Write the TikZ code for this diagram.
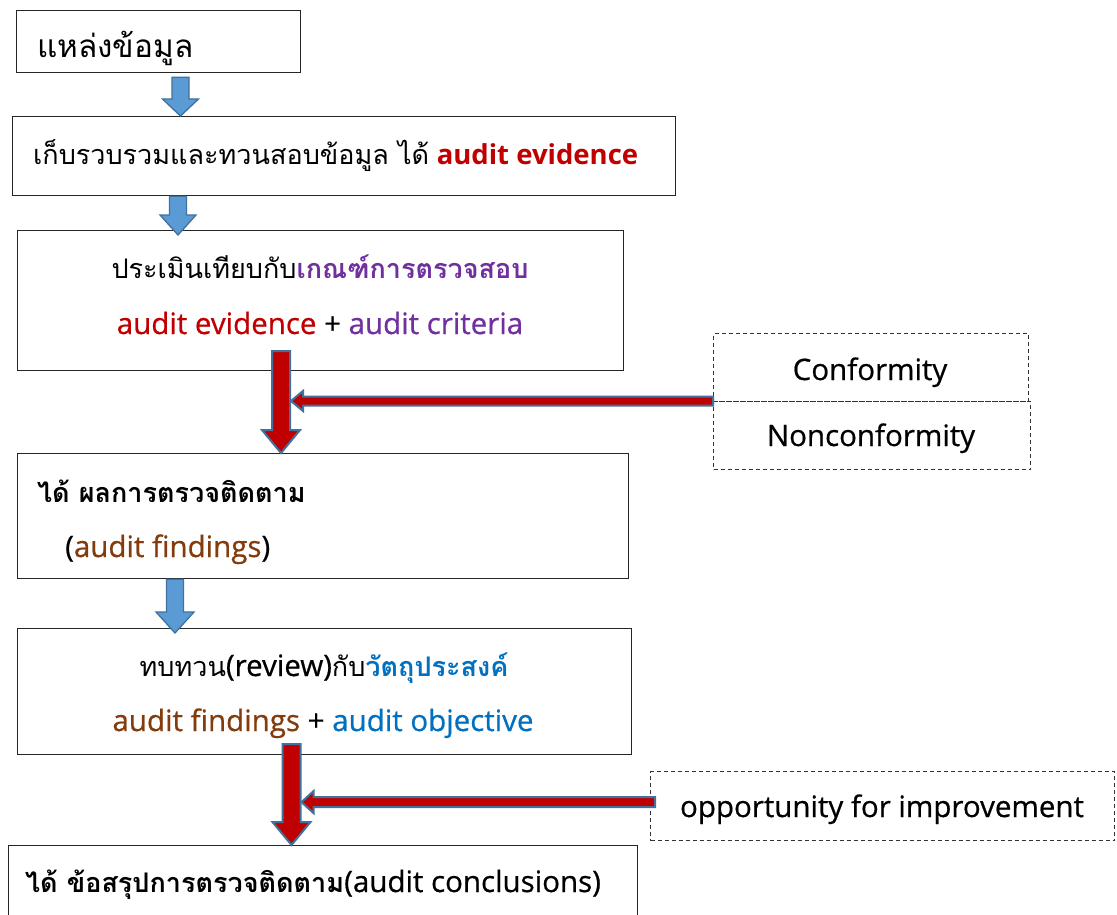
\documentclass[tikz,border=0pt]{standalone}
\usepackage{fontspec}
\setmainfont{Open Sans}[FakeBold=0.6,BoldFont={Open Sans Bold},BoldFeatures={FakeBold=0}]
\newfontfamily\thaifont[Script=Thai]{Loma}
\usetikzlibrary{calc}
\definecolor{evred}{HTML}{C00000}
\definecolor{crpurple}{HTML}{7030A0}
\definecolor{fdbrown}{HTML}{843C0C}
\definecolor{objblue}{HTML}{0070C0}
\definecolor{arrblue}{HTML}{5B9BD5}
\definecolor{arredge}{HTML}{41719C}
\newcommand{\thtxt}[1]{{\fontsize{27}{32}\selectfont\thaifont #1}}
\newcommand{\txt}{\fontsize{29.5}{34}\selectfont}
\newcommand{\bdl}[1]{{\fontsize{27.5}{32}\selectfont\bfseries #1}}
% vertical arrow: #1 tail, #2 tip, #3 half shaft, #4 half head, #5 head length, #6 style
\newcommand{\vArrow}[6]{%
 \draw[#6] let \p1=(#1), \p2=(#2) in
 (\x1-#3pt,\y1) -- (\x1+#3pt,\y1) -- (\x1+#3pt,\y2+#5pt) -- (\x1+#4pt,\y2+#5pt)
 -- (\x1,\y2) -- (\x1-#4pt,\y2+#5pt) -- (\x1-#3pt,\y2+#5pt) -- cycle;}
% horizontal arrow pointing left: #1 tail (right), #2 tip (left)
\newcommand{\hArrow}[6]{%
 \draw[#6] let \p1=(#1), \p2=(#2) in
 (\x1,\y1-#3pt) -- (\x1,\y1+#3pt) -- (\x2+#5pt,\y1+#3pt) -- (\x2+#5pt,\y1+#4pt)
 -- (\x2,\y1) -- (\x2+#5pt,\y1-#4pt) -- (\x2+#5pt,\y1-#3pt) -- cycle;}
\begin{document}
\begin{tikzpicture}[x=1pt,y=-1pt,
  box/.style={draw=black!85,line width=1.2pt,anchor=north west,inner sep=0pt},
  dbox/.style={draw=black!80,line width=1.2pt,dash pattern=on 4pt off 3pt,anchor=north west,inner sep=0pt},
  lbl/.style={inner sep=0pt,font=\txt},
  bluearr/.style={fill=arrblue,draw=arredge,line width=1.3pt,line join=miter},
  redarr/.style={fill=evred,draw=arredge,line width=2pt,line join=miter}]
\useasboundingbox (0,0) rectangle (1117,915);
\fill[white] (0,0) rectangle (1117,915);
% boxes
\node[box,minimum width=284pt,minimum height=62pt] (b1) at (16,10) {};
\node[box,minimum width=663pt,minimum height=79pt] (b2) at (12,116) {};
\node[box,minimum width=606pt,minimum height=140pt] (b3) at (17,230) {};
\node[box,minimum width=611pt,minimum height=125pt] (b4) at (17,453) {};
\node[box,minimum width=614pt,minimum height=126pt] (b5) at (17,628) {};
\node[box,minimum width=629pt,minimum height=80pt] (b6) at (8,845) {};
\node[dbox,minimum width=315pt,minimum height=68pt] (conf) at (713,333) {};
\node[dbox,minimum width=317pt,minimum height=68pt] (nconf) at (713,401) {};
\node[dbox,minimum width=464pt,minimum height=69pt] (ofi) at (650,771) {};
% texts
\node[lbl,anchor=base west] (t1) at (37,58) {{\fontsize{31.5}{36}\selectfont\thaifont แหล่งข้อมูล}};
\node[lbl,anchor=base west] (t2) at (33,165) {\thtxt{เก็บรวบรวมและทวนสอบข้อมูล ได้} \textcolor{evred}{\bdl{audit evidence}}};
\node[lbl,anchor=base] (t3a) at (320,278) {\thtxt{ประเมินเทียบกับ}\textcolor{crpurple}{\thtxt{\bfseries เกณฑ์การตรวจสอบ}}};
\node[lbl,anchor=base] (t3b) at (320,334) {\textcolor{evred}{audit evidence} + \textcolor{crpurple}{audit criteria}};
\node[lbl,anchor=base] (tc) at (870,380) {Conformity};
\node[lbl,anchor=base] (tn) at (871,446) {Nonconformity};
\node[lbl,anchor=base west] (t4a) at (37,502) {\thtxt{\bfseries ได้ ผลการตรวจติดตาม}};
\node[lbl,anchor=base west] (t4b) at (65,557) {(\textcolor{fdbrown}{audit findings})};
\node[lbl,anchor=base] (t5a) at (324,676) {\thtxt{ทบทวน}(review)\thtxt{กับ}\textcolor{objblue}{\thtxt{\bfseries วัตถุประสงค์}}};
\node[lbl,anchor=base] (t5b) at (323,731) {\textcolor{fdbrown}{audit findings} + \textcolor{objblue}{audit objective}};
\node[lbl,anchor=base] (to) at (882,817) {opportunity for improvement};
\node[lbl,anchor=base west] (t6) at (25,892) {\thtxt{\bfseries ได้ ข้อสรุปการตรวจติดตาม}(audit conclusions)};
% arrow anchors
\coordinate (x1) at (180.5,0);
\coordinate (x2) at (178,0);
\coordinate (x3) at (281,0);
\coordinate (x4) at (175,0);
\coordinate (x5) at (291.5,0);
\path (b1.south -| x1) ++(0,4) coordinate (a1s);
\path (b2.north -| x1) coordinate (a1e);
\path (b2.south -| x2) coordinate (a2s);
\path (b3.north -| x2) ++(0,5) coordinate (a2e);
\path (b3.south -| x3) ++(0,-20) coordinate (r1s);
\path (b4.north -| x3) coordinate (r1e);
\path (nconf.north west) coordinate (h1s);
\path (nconf.north west -| x3) ++(10,0) coordinate (h1e);
\path (b4.south -| x4) coordinate (a3s);
\path (b5.north -| x4) ++(0,5) coordinate (a3e);
\path (b5.south -| x5) ++(0,-11) coordinate (r2s);
\path (b6.north -| x5) coordinate (r2e);
\path (ofi.west) ++(5,-4) coordinate (h2s);
\path (ofi.west -| x5) ++(10,-4) coordinate (h2e);
% arrows
\vArrow{a1s}{a1e}{8.5}{18}{17}{bluearr}
\vArrow{a2s}{a2e}{8.5}{18}{20}{bluearr}
\vArrow{a3s}{a3e}{8.5}{19}{21}{bluearr}
\vArrow{r1s}{r1e}{9}{19}{23}{redarr}
\vArrow{r2s}{r2e}{9}{19}{23}{redarr}
\hArrow{h1s}{h1e}{4.5}{10}{12}{redarr}
\hArrow{h2s}{h2e}{5}{11}{12}{redarr}
\end{tikzpicture}
\end{document}
